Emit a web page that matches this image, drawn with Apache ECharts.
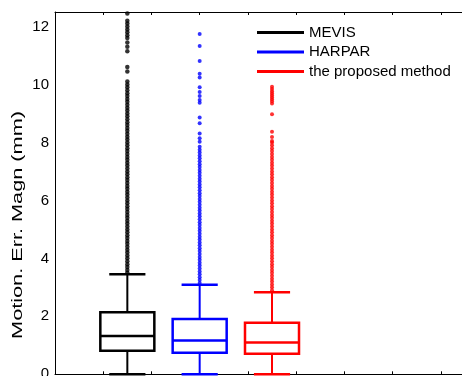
<!DOCTYPE html>
<html>
<head>
<meta charset="utf-8">
<script src="https://cdn.jsdelivr.net/npm/echarts@6/dist/echarts.min.js"></script>
<style>
html,body{margin:0;padding:0;background:#fff;}
#chart{width:462px;height:376px;}
</style>
</head>
<body>
<div id="chart"></div>
<script>
// ---- data ----
const seriesNames = ['MEVIS', 'HARPAR', 'the proposed method'];
const positions = [1.5, 3, 4.5];
// [lowerWhisker, Q1, median, Q3, upperWhisker]
const mevisBox = [0, 0.81, 1.32, 2.14, 3.45];
const harparBox = [0, 0.745, 1.17, 1.91, 3.09];
const proposedBox = [0, 0.71, 1.10, 1.78, 2.83];

const mevisOutliers = [3.5,3.6,3.7,3.8,3.9,4.0,4.1,4.2,4.3,4.4,4.5,4.6,4.7,4.8,4.9,5.0,5.1,5.2,5.3,5.4,5.5,5.6,5.7,5.8,5.9,6.0,6.1,6.2,6.3,6.4,6.5,6.6,6.7,6.8,6.9,7.0,7.1,7.2,7.3,7.4,7.5,7.6,7.7,7.8,7.9,8.0,8.1,8.2,8.3,8.4,8.5,8.6,8.7,8.8,8.9,9.0,9.1,9.2,9.3,9.4,9.5,9.6,9.7,9.8,9.9,10.0,10.1,10.45,10.6,11.15,11.3,11.45,11.6,11.7,11.8,11.9,12.0,12.1,12.2,12.45];
const harparOutliers = [3.15,3.25,3.35,3.45,3.55,3.65,3.75,3.85,3.95,4.05,4.15,4.25,4.35,4.45,4.55,4.65,4.75,4.85,4.95,5.05,5.15,5.25,5.35,5.45,5.55,5.65,5.75,5.85,5.95,6.05,6.15,6.25,6.35,6.45,6.55,6.65,6.75,6.85,6.95,7.05,7.15,7.25,7.35,7.45,7.55,7.65,7.75,7.85,8.02,8.14,8.31,8.66,8.86,9.37,9.46,9.6,9.74,9.9,10.24,10.37,10.81,11.33,11.74];
const proposedOutliers = [2.9,3.0,3.1,3.2,3.3,3.4,3.5,3.6,3.7,3.8,3.9,4.0,4.1,4.2,4.3,4.4,4.5,4.6,4.7,4.8,4.9,5.0,5.1,5.2,5.3,5.4,5.5,5.6,5.7,5.8,5.9,6.0,6.1,6.2,6.3,6.4,6.5,6.6,6.7,6.8,6.9,7.0,7.1,7.2,7.3,7.4,7.5,7.6,7.7,7.8,7.9,8.0,8.05,8.19,8.37,8.97,9.34,9.42,9.49,9.56,9.63,9.70,9.77,9.84,9.92];

const yTicks = [0, 2, 4, 6, 8, 10, 12];
const yLabel = 'Motion. Err. Magn (mm)';

// ---- build ----
const colors = ['#000000', '#0000ff', '#ff0000'];
const boxes = [mevisBox, harparBox, proposedBox];
const outliers = [mevisOutliers, harparOutliers, proposedOutliers];
const BOX_W = 1.12, CAP_W = 0.75;

function renderBox(params, api) {
  const x = api.value(0);
  const lo = api.coord([x, api.value(1)]);
  const q1 = api.coord([x, api.value(2)]);
  const md = api.coord([x, api.value(3)]);
  const q3 = api.coord([x, api.value(4)]);
  const hi = api.coord([x, api.value(5)]);
  const bw = api.size([BOX_W, 0])[0] / 2;
  const cw = api.size([CAP_W, 0])[0] / 2;
  const c = api.visual('color');
  const st = {stroke: c, lineWidth: 2.5, fill: null};
  const wst = {stroke: c, lineWidth: 2, fill: null};
  return {
    type: 'group',
    children: [
      {type: 'line', shape: {x1: lo[0], y1: lo[1], x2: q1[0], y2: q1[1]}, style: wst},
      {type: 'line', shape: {x1: q3[0], y1: q3[1], x2: hi[0], y2: hi[1]}, style: wst},
      {type: 'line', shape: {x1: lo[0] - cw, y1: lo[1], x2: lo[0] + cw, y2: lo[1]}, style: st},
      {type: 'line', shape: {x1: hi[0] - cw, y1: hi[1], x2: hi[0] + cw, y2: hi[1]}, style: st},
      {type: 'rect', shape: {x: q3[0] - bw, y: q3[1], width: 2 * bw, height: q1[1] - q3[1]}, style: st},
      {type: 'line', shape: {x1: md[0] - bw, y1: md[1], x2: md[0] + bw, y2: md[1]}, style: st}
    ]
  };
}

const series = [];
seriesNames.forEach((name, i) => {
  series.push({
    type: 'scatter',
    name: name + ' outliers',
    symbol: 'circle',
    symbolSize: i === 0 ? 4.5 : 4,
    itemStyle: {color: colors[i]},
    data: outliers[i].map(v => [positions[i], v]),
    silent: true,
    z: 2
  });
});
seriesNames.forEach((name, i) => {
  series.push({
    type: 'custom',
    name: name,
    renderItem: renderBox,
    itemStyle: {color: colors[i]},
    encode: {x: 0, y: [1, 2, 3, 4, 5]},
    data: [[positions[i]].concat(boxes[i])],
    z: 3
  });
});

const chart = echarts.init(document.getElementById('chart'), null, {renderer: 'canvas'});
chart.setOption({
  animation: false,
  backgroundColor: '#fff',
  textStyle: {fontFamily: 'Liberation Sans'},
  grid: {left: 55, top: 12, width: 407, height: 362.3, show: false, containLabel: false, outerBoundsMode: 'none'},
  legend: {
    orient: 'vertical',
    left: 252,
    top: 20,
    itemWidth: 47,
    itemHeight: 3,
    itemGap: 4.5,
    padding: 5,
    backgroundColor: '#fff',
    data: seriesNames.map((n, i) => ({name: n, icon: 'rect', itemStyle: {color: colors[i]}})),
    textStyle: {fontFamily: 'Liberation Sans', fontSize: 15, color: '#000', lineHeight: 15},
    selectedMode: false
  },
  xAxis: [
    {type: 'value', min: 0, max: 8.44, interval: 1, position: 'bottom',
     axisLine: {show: true, lineStyle: {color: '#000', width: 1}},
     axisTick: {show: true, inside: true, length: 3, lineStyle: {color: '#000'}},
     axisLabel: {show: false}, splitLine: {show: false}},
    {type: 'value', min: 0, max: 8.44, interval: 1, position: 'top',
     axisLine: {show: true, lineStyle: {color: '#000', width: 1}},
     axisTick: {show: true, inside: true, length: 3, lineStyle: {color: '#000'}},
     axisLabel: {show: false}, splitLine: {show: false}}
  ],
  yAxis: {
    type: 'value', min: 0, max: 12.5, interval: 2,
    axisLine: {show: true, lineStyle: {color: '#000', width: 1}},
    axisTick: {show: false},
    splitLine: {show: false},
    axisLabel: {
      color: '#000', fontSize: 15, fontFamily: 'Liberation Sans', margin: 6,
      formatter: v => (yTicks.indexOf(v) >= 0 ? String(v) : '')
    }
  },
  graphic: [{
    type: 'text',
    x: 18, y: 225,
    rotation: Math.PI / 2,
    scaleX: 1.55,
    style: {text: yLabel, font: '14px "Liberation Sans"', fill: '#000', align: 'center', verticalAlign: 'middle'}
  }],
  series: series
});
</script>
</body>
</html>
